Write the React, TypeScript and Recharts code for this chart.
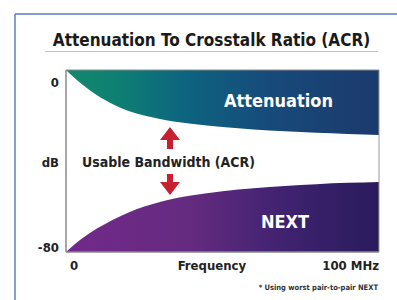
import { ComposedChart, Area, XAxis, YAxis } from "recharts";

// frequency in MHz, levels in dB
const freq = [0, 5, 10, 15, 20, 25, 30, 40, 50, 60, 70, 80, 90, 100];
const attenuation = [0, -6.2, -11.2, -15, -18, -20, -21.5, -23.6, -25.1, -26.1, -26.9, -27.6, -28.1, -28.6];
const next = [-80, -74.2, -69.6, -65.8, -62.6, -60, -58, -55.2, -53.3, -52, -51, -50.2, -49.6, -49.2];

const yTicks = [0, -40, -80];
const yTickText: Record<number, string> = { 0: "0", "-40": "dB", "-80": "-80" };
const xTicks = [0, 46.6, 100];
const xTickText: Record<number, string> = { 0: "0", 46.6: "Frequency", 100: "100 MHz" };

const data = freq.map((f, i) => ({ f, att: attenuation[i], next: next[i] }));

const font = "'DejaVu Sans Condensed', 'DejaVu Sans', sans-serif";

const YTick = (props: any) => {
  const { x, y, payload } = props;
  const v = payload.value;
  const dy = v === 0 ? 17 : v === -80 ? 0 : 6;
  return (
    <text x={x + 1} y={y + dy} textAnchor="end" fontFamily={font} fontWeight="bold" fontSize={13} fill="#222">
      {yTickText[v]}
    </text>
  );
};

const XTick = (props: any) => {
  const { x, y, payload } = props;
  const v = payload.value;
  const anchor = v === 0 ? "start" : v === 100 ? "end" : "middle";
  const dx = v === 0 ? 4 : 0;
  return (
    <text x={x + dx} y={y + 10} textAnchor={anchor} fontFamily={font} fontWeight="bold" fontSize={13} fill="#222">
      {xTickText[v]}
    </text>
  );
};

const Arrow = ({ x, tip, base, up }: { x: number; tip: number; base: number; up: boolean }) => {
  const s = up ? 1 : -1;
  const head = tip + s * 13;
  return (
    <path
      d={`M${x} ${tip} L${x + 10} ${head} L${x + 3} ${head} L${x + 3} ${base} L${x - 3} ${base} L${x - 3} ${head} L${x - 10} ${head} Z`}
      fill="#c8202e"
    />
  );
};

export default function App() {
  return (
    <div style={{ position: "absolute", left: 0, top: 0, width: 397, height: 300, background: "#fff" }}>
      <ComposedChart width={397} height={300} data={data} margin={{ top: 70, right: 0, bottom: 18, left: 26 }}>
        <defs>
          <linearGradient id="attGrad" x1="0" y1="0" x2="1" y2="0">
            <stop offset="0%" stopColor="#138a6c" />
            <stop offset="18%" stopColor="#0e7e74" />
            <stop offset="38%" stopColor="#0d6480" />
            <stop offset="65%" stopColor="#174a7a" />
            <stop offset="100%" stopColor="#1b3a6c" />
          </linearGradient>
          <linearGradient id="nextGrad" x1="0" y1="0" x2="1" y2="0">
            <stop offset="0%" stopColor="#73298a" />
            <stop offset="40%" stopColor="#642b80" />
            <stop offset="70%" stopColor="#3f2270" />
            <stop offset="100%" stopColor="#2a1b5c" />
          </linearGradient>
        </defs>
        <XAxis
          dataKey="f"
          type="number"
          domain={[0, 100]}
          ticks={xTicks}
          tick={<XTick />}
          tickLine={false}
          axisLine={{ stroke: "#8a8a8a", strokeWidth: 1.5 }}
        />
        <YAxis
          domain={[-80, 0]}
          ticks={yTicks}
          tick={<YTick />}
          tickLine={false}
          width={40}
          axisLine={{ stroke: "#8a8a8a", strokeWidth: 1.5 }}
        />
        <YAxis
          yAxisId="r"
          orientation="right"
          domain={[-80, 0]}
          tick={false}
          tickLine={false}
          width={18}
          axisLine={{ stroke: "#9a9a9a", strokeWidth: 1 }}
        />
        <Area
          type="monotone"
          dataKey="att"
          baseValue={0}
          stroke="none"
          fill="url(#attGrad)"
          fillOpacity={1}
          isAnimationActive={false}
        />
        <Area
          type="monotone"
          dataKey="next"
          baseValue={-80}
          stroke="none"
          fill="url(#nextGrad)"
          fillOpacity={1}
          isAnimationActive={false}
        />
      </ComposedChart>
      <svg width={397} height={300} style={{ position: "absolute", left: 0, top: 0, pointerEvents: "none" }}>
        <line x1={15} y1={14} x2={397} y2={14} stroke="#5d7cc0" strokeWidth={1.5} />
        <line x1={15} y1={14} x2={15} y2={300} stroke="#5d7cc0" strokeWidth={1.5} />
        <text x={211.5} y={46} textAnchor="middle" fontFamily={font} fontWeight="bold" fontSize={17} fill="#1a1a1a">
          Attenuation To Crosstalk Ratio (ACR)
        </text>
        <line x1={45} y1={51.5} x2={378} y2={51.5} stroke="#e2b4c8" strokeWidth={1} />
        <line x1={66} y1={70} x2={379} y2={70} stroke="#8a8a8a" strokeWidth={1} />
        <text x={278.5} y={107} textAnchor="middle" fontFamily={font} fontWeight="bold" fontSize={18} fill="#fff">
          Attenuation
        </text>
        <text x={285} y={228} textAnchor="middle" fontFamily={font} fontWeight="bold" fontSize={18} fill="#fff">
          NEXT
        </text>
        <text x={168.5} y={167} textAnchor="middle" fontFamily={font} fontWeight="bold" fontSize={14} fill="#222">
          Usable Bandwidth (ACR)
        </text>
        <Arrow x={170} tip={127} base={149} up />
        <Arrow x={170} tip={195} base={174} up={false} />
        <text x={378} y={290} textAnchor="end" fontFamily={font} fontWeight="bold" fontSize={7.5} fill="#333">
          * Using worst pair-to-pair NEXT
        </text>
      </svg>
    </div>
  );
}
